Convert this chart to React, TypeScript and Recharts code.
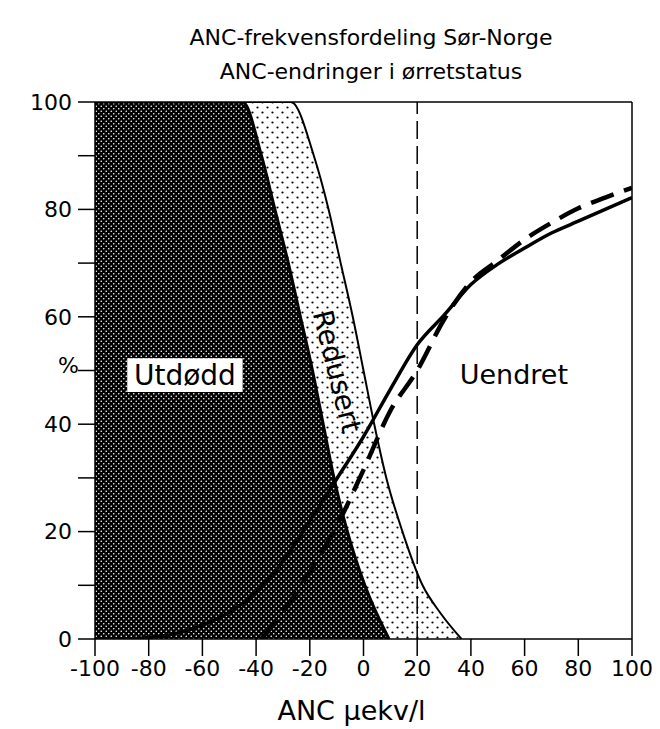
import React from 'react';
import { ComposedChart, Area, Line, XAxis, YAxis, ReferenceLine, ReferenceArea, ReferenceDot } from 'recharts';

// ANC (µekv/l) and cumulative %
const utdoddAnc = [-100, -45, -38, -33, -28, -23.5, -19, -15, -11, -6, 0.5, 9.5];
const utdoddPct = [100, 100, 90, 80, 70, 60, 50, 40, 30, 20, 10, 0];

const redusertAnc = [-100, -27, -18.5, -13, -8.5, -4, 0, 4, 8.5, 14.5, 22, 28.7, 36.5];
const redusertPct = [100, 100, 90, 80, 70, 60, 50, 40, 30, 20, 10, 4.8, 0];

const solidAnc = [-100, -90, -80, -70, -60, -50, -40, -30, -20, -10, 0, 10, 20, 30, 40, 50, 60, 70, 80, 90, 100];
const solidPct = [0, 0, 0.3, 1, 2.6, 5, 8.6, 14.5, 22, 29.8, 37.7, 46.5, 54.8, 60.3, 66, 69.8, 72.8, 75.6, 77.8, 80, 82.2];

const dashedAnc = [-38, -30, -20, -10, 0, 10, 20, 30, 40, 50, 60, 70, 80, 90, 100];
const dashedPct = [0, 5, 12.5, 21, 31.5, 42.5, 50, 59.5, 66.5, 70.5, 74.4, 77.5, 80.2, 82.2, 84];

const xTicks = [-100, -80, -60, -40, -20, 0, 20, 40, 60, 80, 100];
const yTicks = [0, 10, 20, 30, 40, 50, 60, 70, 80, 90, 100];

const titleLines = ['ANC-frekvensfordeling Sør-Norge', 'ANC-endringer i ørretstatus'];

const FONT = '"DejaVu Sans", sans-serif';

const toPoints = (xs: number[], ys: number[]) => xs.map((x, i) => ({ x, y: ys[i] }));

const textShape = (label: string, size: number, angle = 0) => (p: any) => (
  <text
    x={p.cx}
    y={p.cy}
    transform={angle ? `rotate(${angle} ${p.cx} ${p.cy})` : undefined}
    textAnchor="middle"
    dominantBaseline="central"
    fontSize={size}
    fontFamily={FONT}
    fill="#000"
  >
    {label}
  </text>
);

export default function App() {
  return (
    <div style={{ position: 'absolute', left: 0, top: 0, width: 660, height: 729, background: '#fff', fontFamily: FONT }}>
      <div style={{ position: 'absolute', left: 41, top: 21, width: 660, textAlign: 'center', fontSize: 22, lineHeight: '34px', color: '#000' }}>
        {titleLines.map((t) => <div key={t}>{t}</div>)}
      </div>
      <ComposedChart width={660} height={729} margin={{ top: 102, right: 28, bottom: 60, left: 45 }}>
        <defs>
          <pattern id="darkDots" width="5" height="5" patternUnits="userSpaceOnUse">
            <rect width="5" height="5" fill="#000" />
            <circle cx="1.25" cy="1.25" r="0.8" fill="#fff" />
            <circle cx="3.75" cy="3.75" r="0.8" fill="#fff" />
          </pattern>
          <pattern id="lightDots" width="10" height="10" patternUnits="userSpaceOnUse">
            <rect width="10" height="10" fill="#fff" />
            <circle cx="2.5" cy="2.5" r="1.1" fill="#000" />
            <circle cx="7.5" cy="7.5" r="1.1" fill="#000" />
          </pattern>
        </defs>
        <XAxis
          type="number"
          dataKey="x"
          domain={[-100, 100]}
          ticks={xTicks}
          allowDataOverflow
          tickSize={17}
          tickMargin={4}
          height={30}
          stroke="#000"
          strokeWidth={1.5}
          tick={{ fill: '#000', fontSize: 22, fontFamily: FONT }}
          label={{ value: 'ANC µekv/l', position: 'bottom', offset: 32, dx: -12, fontSize: 27, fill: '#000', fontFamily: FONT }}
        />
        <YAxis
          type="number"
          dataKey="y"
          domain={[0, 100]}
          ticks={yTicks}
          allowDataOverflow
          width={50}
          tickSize={17}
          tickMargin={6}
          stroke="#000"
          strokeWidth={1.5}
          tickFormatter={(v: number) => (v % 20 === 0 ? String(v) : '')}
          tick={{ fill: '#000', fontSize: 22, fontFamily: FONT }}
          label={{ value: '%', position: 'insideLeft', offset: 13, dy: -5, fontSize: 22, fill: '#000', fontFamily: FONT }}
        />
        <Area
          data={toPoints(redusertAnc, redusertPct)}
          dataKey="y"
          type="monotone"
          fill="url(#lightDots)"
          fillOpacity={1}
          stroke="#000"
          strokeWidth={2}
          isAnimationActive={false}
        />
        <Area
          data={toPoints(utdoddAnc, utdoddPct)}
          dataKey="y"
          type="monotone"
          fill="url(#darkDots)"
          fillOpacity={1}
          stroke="#000"
          strokeWidth={3}
          isAnimationActive={false}
        />
        <ReferenceLine x={20} stroke="#000" strokeWidth={1.5} strokeDasharray="18 7" />
        <ReferenceLine y={100} stroke="#000" strokeWidth={1.5} />
        <ReferenceLine x={100} stroke="#000" strokeWidth={1.5} />
        <Line
          data={toPoints(solidAnc, solidPct)}
          dataKey="y"
          type="monotone"
          stroke="#000"
          strokeWidth={3.5}
          dot={false}
          isAnimationActive={false}
        />
        <Line
          data={toPoints(dashedAnc, dashedPct)}
          dataKey="y"
          type="monotone"
          stroke="#000"
          strokeWidth={4.5}
          strokeDasharray="24 11"
          dot={false}
          isAnimationActive={false}
        />
        <ReferenceArea
          x1={-88}
          x2={-45}
          y1={46}
          y2={52.3}
          fill="#fff"
          fillOpacity={1}
          stroke="none"
          zIndex={1500}
          label={{ value: 'Utdødd', position: 'center', fontSize: 28, fill: '#000', fontFamily: FONT }}
        />
        <ReferenceDot x={-9.9} y={49.8} r={0} zIndex={1600} shape={textShape('Redusert', 28, 76)} />
        <ReferenceDot x={56} y={49.2} r={0} zIndex={1600} shape={textShape('Uendret', 27)} />
      </ComposedChart>
    </div>
  );
}
